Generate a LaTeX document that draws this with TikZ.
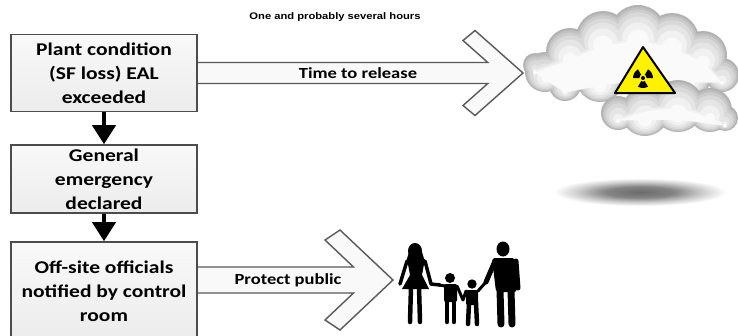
\documentclass[tikz,border=0pt]{standalone}
\usepackage{fontspec}
\setmainfont{Carlito}
\newfontfamily\boxfont{Carlito}[FakeStretch=1.2]
\newfontfamily\notefont{Liberation Sans}[FakeStretch=1.17]
\usetikzlibrary{arrows.meta,calc,backgrounds}

% soft dark blob used for the shadow under the cloud
\pgfdeclareradialshading{blob}{\pgfpoint{0bp}{0bp}}{color(0bp)=(black!58); color(10bp)=(black!48); color(18bp)=(black!20); color(25bp)=(white); color(50bp)=(white)}

\begin{document}
\begin{tikzpicture}[x=1bp,y=-1bp,
  stepbox/.style={draw=black!70, line width=1.6bp, top color=gray!5, bottom color=gray!15,
    minimum width=186bp, align=center, inner sep=0pt,
    font=\boxfont\bfseries\fontsize{18}{24}\selectfont},
  downarrow/.style={line width=4bp, -{Triangle[width=23bp,length=19bp]}},
  bigarrow/.style={draw=black!65, line width=1.4bp, fill=gray!5, line join=miter},
  arrowlabel/.style={font=\boxfont\bfseries\fontsize{15.5}{18}\selectfont},
  limb/.style={draw=black, line cap=round, line join=round},
]
\useasboundingbox (0,0) rectangle (738,335);
\clip (0,0) rectangle (738,335);

% the three steps
\node[stepbox, minimum height=77bp] (b1) at (104,73) {Plant condition\\(SF loss) EAL\\exceeded};
\node[stepbox, minimum height=68bp] (b2) at (104,179) {General\\emergency\\declared};
\node[stepbox, minimum height=98bp] (b3) at (104,291) {Off-site officials\\notified by control\\room};

\draw[downarrow] (b1.south) -- (b2.north);
\draw[downarrow] (b2.south) -- (b3.north);

% arrow tips
\coordinate (t1) at (523,73);
\coordinate (t2) at (393,280);

\begin{scope}[on background layer]
  \fill[white] (0,0) rectangle (738,335);
  \filldraw[bigarrow] ($(b1.east |- t1)+(-5,-10.5)$) -- ($(t1)+(-35.2,-10.5)$) -- ($(t1)+(-60,-32.5)$)
     -- ($(t1)+(-48,-42.5)$) -- (t1) -- ($(t1)+(-48,42.5)$) -- ($(t1)+(-60,32.5)$)
     -- ($(t1)+(-35.2,10.5)$) -- ($(b1.east |- t1)+(-5,10.5)$) -- cycle;
  \filldraw[bigarrow] ($(b3.east |- t2)+(-5,-13)$) -- ($(t2)+(-39.5,-13)$) -- ($(t2)+(-68,-40)$)
     -- ($(t2)+(-53,-50)$) -- (t2) -- ($(t2)+(-53,50)$) -- ($(t2)+(-68,40)$)
     -- ($(t2)+(-39.5,13)$) -- ($(b3.east |- t2)+(-5,13)$) -- cycle;
\end{scope}

\node[arrowlabel] (l1) at (358,73) {Time to release};
\node[arrowlabel] (l2) at (288,280) {Protect public};

\node[font=\notefont\bfseries\fontsize{9.6}{11}\selectfont] (note) at (335,17) {One and probably several hours};

% cloud: rear puffs, then front puffs; each pass shrinks the puffs, lifts them a little
% and lightens them, so the lower rims stay darker; the polygon through the puff
% centres keeps the inside filled
\foreach \d/\c in {0/gray!60, 1.5/gray!50, 3/gray!40, 5/gray!30, 8/gray!20, 12/gray!11, 17/gray!4}{
  \begin{scope}[yshift={-0.45*\d}]
  \fill[\c] (535,65) -- (570,52) -- (603,38) -- (638,33) -- (672,40) -- (703,55) -- (722,75)
     -- (690,75) -- (645,72) -- (600,78) -- (565,85) -- (545,72) -- cycle;
  \foreach \x/\y/\r in {535/65/12, 545/72/20, 570/52/24, 603/38/27, 638/33/28, 672/40/27, 703/55/24,
                        722/75/17, 565/85/16, 600/78/24, 645/72/28, 690/75/22}{
    \fill[\c] (\x,\y) circle[radius={max(\r-\d,2)}];
  }
  \end{scope}
}
\foreach \d/\c in {0/gray!60, 1.5/gray!50, 3/gray!40, 5/gray!30, 8/gray!20, 12/gray!11, 17/gray!4}{
  \begin{scope}[yshift={-0.45*\d}]
  \fill[\c] (618,113) -- (645,104) -- (678,100) -- (710,110) -- (725,118) -- (678,112) -- cycle;
  \foreach \x/\y/\r in {618/113/17, 645/112/24, 678/106/26, 710/110/22, 725/118/13}{
    \fill[\c] (\x,\y) circle[radius={max(\r-\d,2)}];
  }
  \end{scope}
}

% radiation warning sign
\filldraw[fill=yellow, draw=black, line width=2bp, line join=round] (643,47) -- (675,93) -- (615,93) -- cycle;
\coordinate (rc) at (643,78);
\foreach \a in {-30,-150,90}{
  \fill (rc) -- ++({\a-30}:10) arc[start angle={\a-30}, end angle={\a+30}, radius=10] -- cycle;
}
\fill[yellow] (rc) circle[radius=3.6];
\fill (rc) circle[radius=2];

% shadow under the cloud
\shade[shading=blob] (640,192) ellipse[x radius=86, y radius=14];

% family walking hand in hand
\begin{scope}
  % mother
  \fill (415,251) ellipse[x radius=7, y radius=8];
  \fill (409,252) -- (422,252) -- (425,262) -- (406,262) -- cycle;
  \fill (407,259) -- (425,259) -- (422,275) -- (429,289) -- (402,289) -- (410,275) -- cycle;
  \draw[limb, line width=4.5] (411,287) -- (410,322);
  \draw[limb, line width=4.5] (419,287) -- (420,322);
  \draw[limb, line width=3.5] (407,261) -- (400,284);
  \draw[limb, line width=3.5] (425,261) -- (431,284) -- (440,285);
  % first child
  \fill (450,278) circle[radius=5];
  \fill[rounded corners=2] (444,284) rectangle (457,302);
  \draw[limb, line width=4.5] (447,300) -- (447,322);
  \draw[limb, line width=4.5] (454,300) -- (454,322);
  \draw[limb, line width=3] (445,286) -- (439,285);
  \draw[limb, line width=3] (457,286) -- (463,300);
  % second child
  \fill (472,284) circle[radius=4.7];
  \fill[rounded corners=2] (466,290) rectangle (478,305);
  \draw[limb, line width=4.5] (469,303) -- (468,324);
  \draw[limb, line width=4.5] (476,303) -- (477,324);
  \draw[limb, line width=3] (466,291) -- (463,300);
  \draw[limb, line width=3] (478,291) -- (486,282);
  % father
  \fill (503,249) ellipse[x radius=6.5, y radius=7.5];
  \fill[rounded corners=3] (492,258) -- (515,258) -- (517,292) -- (496,292) -- cycle;
  \draw[limb, line width=7] (500,290) -- (501,324);
  \draw[limb, line width=7] (511,290) -- (512,324);
  \draw[limb, line width=5] (495,261) -- (486,282);
  \draw[limb, line width=5] (516,261) -- (518,288);
\end{scope}
\end{tikzpicture}
\end{document}
